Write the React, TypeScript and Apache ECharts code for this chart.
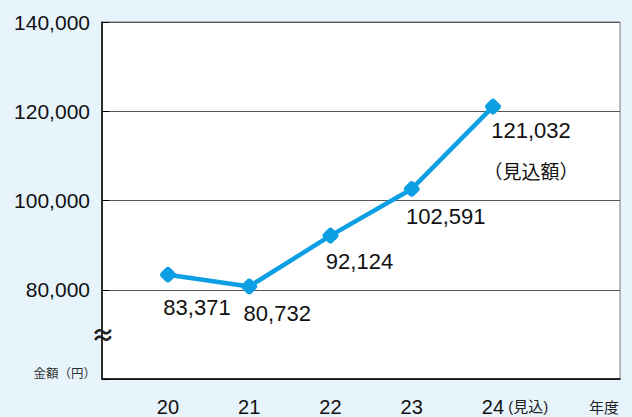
import React, { useEffect, useRef } from "react";
import * as echarts from "echarts";

const years = [20, 21, 22, 23, 24];
const amounts = [83371, 80732, 92124, 102591, 121032];
const yTickValues = [60000, 80000, 100000, 120000, 140000];
const estimateNote = "（見込額）";
const lastYearNote = "(見込)";

const FONT = "'Liberation Sans', Arial, 'Noto Sans CJK JP', sans-serif";
const CJK = "'Noto Sans CJK JP', sans-serif";
const BLUE = "#0d9fe3";

// label offsets (styling only)
const labelOffsets: [number, number][] = [
  [29, 33],
  [28, 27],
  [29, 26],
  [34, 28],
  [38, 45],
];

export default function App() {
  const ref = useRef<HTMLDivElement>(null);
  useEffect(() => {
    document.body.style.margin = "0";
    if (!ref.current) return;
    const chart = echarts.init(ref.current, null, { renderer: "svg" });
    const last = years.length - 1;
    const fmt = (v: number) => v.toLocaleString("en-US");
    const option: any = {
      animation: false,
      backgroundColor: "#e7f4fc",
      textStyle: { fontFamily: FONT },
      grid: {
        show: true,
        left: 102,
        top: 22,
        width: 518,
        height: 358,
        backgroundColor: "#ffffff",
        borderColor: "#777",
        borderWidth: 1,
      },
      xAxis: {
        type: "value",
        min: 19.188,
        max: 25.563,
        axisLine: { show: true, lineStyle: { color: "#000", width: 1.5 } },
        axisTick: { show: false },
        splitLine: { show: false },
        axisLabel: {
          customValues: years,
          margin: 18,
          color: "#111",
          fontFamily: FONT,
          formatter: (v: number) =>
            v === years[last]
              ? `{p|}{n|${v}}{s| ${lastYearNote}}`
              : `{n|${v}}`,
          rich: {
            p: { width: 44 },
            n: { fontSize: 20, color: "#111", fontFamily: FONT },
            s: { fontSize: 15, color: "#222", fontFamily: FONT },
          },
        },
      },
      yAxis: {
        type: "value",
        min: yTickValues[0],
        max: yTickValues[yTickValues.length - 1],
        interval: 20000,
        axisLine: { show: true, lineStyle: { color: "#000", width: 1.5 } },
        axisTick: { show: true, inside: true, length: 7, lineStyle: { color: "#000" } },
        splitLine: { show: true, lineStyle: { color: "#555", width: 1 } },
        axisLabel: {
          margin: 12,
          fontSize: 21,
          color: "#111",
          fontFamily: FONT,
          formatter: (v: number) => (v === yTickValues[0] ? "" : fmt(v)),
        },
      },
      series: [
        {
          type: "line",
          data: years.map((y, i) => ({
            value: [y, amounts[i]],
            label: {
              offset: labelOffsets[i],
              formatter:
                i === last
                  ? `{v|${fmt(amounts[i])}}\n{n|${estimateNote}}`
                  : fmt(amounts[i]),
            },
          })),
          lineStyle: { color: BLUE, width: 4.5 },
          itemStyle: { color: BLUE },
          symbol: "roundRect",
          symbolSize: 13,
          symbolRotate: 45,
          label: {
            show: true,
            position: "inside",
            align: "center",
            verticalAlign: "middle",
            fontSize: 22,
            color: "#111",
            fontFamily: FONT,
            rich: {
              v: { fontSize: 22, color: "#111", lineHeight: 42, fontFamily: FONT },
              n: { fontSize: 19, color: "#111", lineHeight: 42, fontFamily: FONT },
            },
          },
          z: 5,
        },
      ],
      graphic: [
        {
          type: "text",
          x: 103,
          y: 333,
          style: {
            text: "≈",
            fontSize: 24,
            fontWeight: "bold",
            fill: "#222",
            fontFamily: CJK,
            align: "center",
            verticalAlign: "middle",
          },
          z: 10,
        },
        {
          type: "text",
          x: 96,
          y: 372,
          style: {
            text: "金額（円）",
            fontSize: 12.5,
            fill: "#333",
            fontFamily: CJK,
            align: "right",
            verticalAlign: "middle",
          },
        },
        {
          type: "text",
          x: 604,
          y: 406,
          style: {
            text: "年度",
            fontSize: 15,
            fill: "#222",
            fontFamily: CJK,
            align: "center",
            verticalAlign: "middle",
          },
        },
      ],
    };
    chart.setOption(option);
    return () => chart.dispose();
  }, []);
  return <div ref={ref} style={{ width: 632, height: 417 }} />;
}
